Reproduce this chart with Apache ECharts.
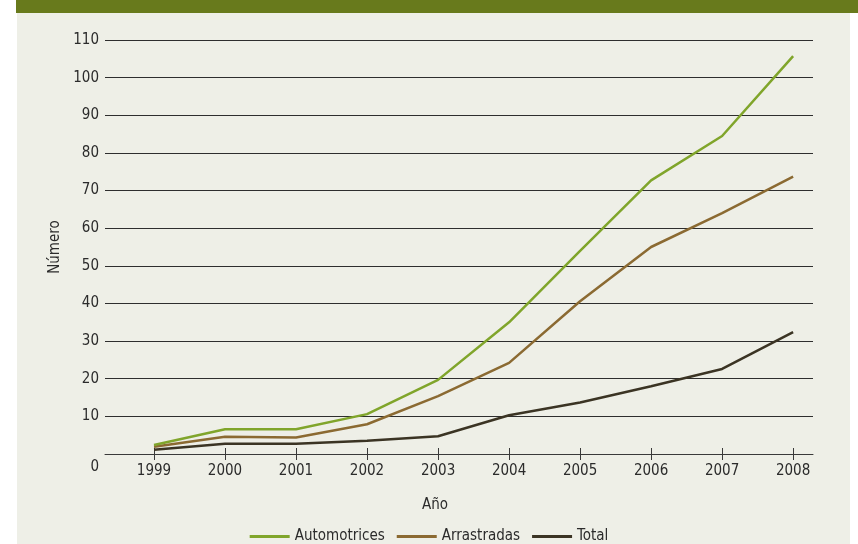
<!DOCTYPE html>
<html>
<head>
<meta charset="utf-8">
<script src="https://cdn.jsdelivr.net/npm/echarts@6/dist/echarts.min.js"></script>
<style>
  html, body { margin: 0; padding: 0; background: #fff; }
  #band { position: absolute; left: 16px; top: 0; width: 842px; height: 13px; background: #687a1c; }
  #panel { position: absolute; left: 17px; top: 13px; width: 833px; height: 531px; background: #eeefe7; }
  #chart { position: absolute; left: 0; top: 0; width: 858px; height: 544px; }
</style>
</head>
<body>
<div id="band"></div>
<div id="panel"></div>
<div id="chart"></div>
<script>
// años y series
var years = [1999, 2000, 2001, 2002, 2003, 2004, 2005, 2006, 2007, 2008];
var automotrices = [2.4, 6.6, 6.6, 10.6, 19.7, 35, 54, 72.7, 84.5, 105.7];
var arrastradas = [1.9, 4.6, 4.4, 7.9, 15.4, 24.2, 40.6, 55, 64, 73.7];
var total = [1.1, 2.7, 2.7, 3.5, 4.7, 10.3, 13.7, 18, 22.6, 32.4];
var yTicks = [0, 10, 20, 30, 40, 50, 60, 70, 80, 90, 100, 110];

var FONT = '"Liberation Sans Narrow", "DejaVu Sans Condensed", "Roboto", sans-serif';

function pairs(arr) {
    return years.map(function(y, i) { return [y, arr[i]]; });
}

var chart = echarts.init(document.getElementById('chart'));
var option = {
    backgroundColor: 'transparent',
    animation: false,
    textStyle: { fontFamily: FONT },
    grid: { left: 105, right: 45, top: 40, bottom: 90, containLabel: false },
    legend: {
        top: 524,
        left: 'center',
        itemWidth: 40,
        itemHeight: 3,
        itemGap: 12,
        icon: 'rect',
        textStyle: { fontFamily: FONT, fontSize: 15, color: '#2b2b2b' },
        data: ['Automotrices', 'Arrastradas', 'Total']
    },
    xAxis: [{
        type: 'value',
        position: 'bottom',
        min: 1998.31,
        max: 2008.28,
        name: 'Año',
        nameLocation: 'middle',
        nameGap: 44,
        nameTextStyle: { fontFamily: FONT, fontSize: 15, color: '#2b2b2b', padding: [0, 48, 0, 0] },
        axisLine: { show: true, lineStyle: { color: '#3a3a3a', width: 1 } },
        axisTick: { show: true, customValues: years, length: 6, lineStyle: { color: '#3a3a3a' } },
        axisLabel: {
            customValues: years,
            margin: 10,
            fontFamily: FONT, fontSize: 15, color: '#2b2b2b',
            formatter: function(v) { return String(Math.round(v)); }
        },
        splitLine: { show: false }
    }, {
        type: 'value',
        position: 'bottom',
        min: 1998.31,
        max: 2008.28,
        axisLine: { show: false },
        axisTick: { show: true, inside: true, customValues: years, length: 6, lineStyle: { color: '#3a3a3a' } },
        axisLabel: { show: false },
        splitLine: { show: false }
    }],
    yAxis: {
        type: 'value',
        min: 0,
        max: 110,
        interval: 10,
        name: 'Número',
        nameLocation: 'middle',
        nameGap: 32,
        nameRotate: 90,
        nameTextStyle: { fontFamily: FONT, fontSize: 15, color: '#2b2b2b' },
        axisLine: { show: false },
        axisTick: { show: false },
        axisLabel: {
            margin: 6,
            fontFamily: FONT, fontSize: 15, color: '#2b2b2b',
            formatter: function(v) { return v === 0 ? '{z|0}' : String(v); },
            rich: { z: { fontFamily: FONT, fontSize: 15, color: '#2b2b2b', padding: [26, 0, 0, 0] } }
        },
        splitLine: { show: true, lineStyle: { color: '#2e2e2e', width: 1 } }
    },
    series: [{
        name: 'Automotrices',
        type: 'line',
        data: pairs(automotrices),
        showSymbol: false,
        symbol: 'none',
        color: '#80a52b',
        lineStyle: { width: 2.5, color: '#80a52b' },
        z: 4
    }, {
        name: 'Arrastradas',
        type: 'line',
        data: pairs(arrastradas),
        showSymbol: false,
        symbol: 'none',
        color: '#8b6a32',
        lineStyle: { width: 2.5, color: '#8b6a32' },
        z: 3
    }, {
        name: 'Total',
        type: 'line',
        data: pairs(total),
        showSymbol: false,
        symbol: 'none',
        color: '#3b3424',
        lineStyle: { width: 2.5, color: '#3b3424' },
        z: 2
    }]
};
chart.setOption(option);
</script>
</body>
</html>
